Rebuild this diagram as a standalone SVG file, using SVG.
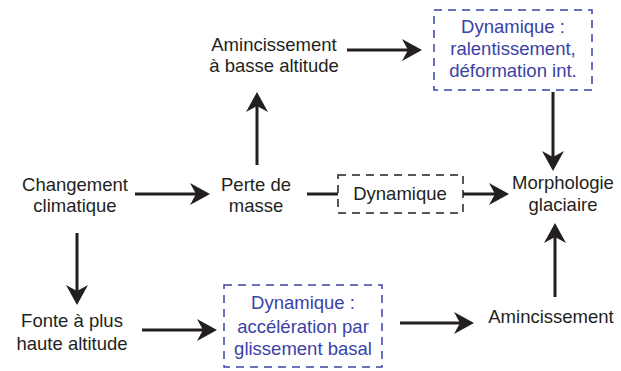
<svg xmlns="http://www.w3.org/2000/svg" width="621" height="371" viewBox="0 0 621 371">
<style>
text{font-family:"Liberation Sans",Arial,sans-serif;font-size:18.5px;fill:#231f20;text-anchor:middle}
.blue{fill:#3a42a6}
.conn{stroke:#231f20;stroke-width:3;fill:none}
.box{fill:none;stroke:#231f20;stroke-width:1.5;stroke-dasharray:8 6}
.bbox{fill:none;stroke:#3a42a6;stroke-width:1.5;stroke-dasharray:8 6}
</style>
<defs>
<marker id="ah" viewBox="0 -12 22 24" markerWidth="22" markerHeight="24" refX="10" refY="0" markerUnits="userSpaceOnUse" orient="auto">
<path d="M0,-11 L20,0 L0,11 L6,0 Z" fill="#231f20"/>
</marker>
</defs>
<g id="connectors">
<line class="conn" x1="135" y1="194" x2="200" y2="194" marker-end="url(#ah)"/>
<line class="conn" x1="257" y1="165" x2="257" y2="102" marker-end="url(#ah)"/>
<line class="conn" x1="347" y1="50" x2="412" y2="50" marker-end="url(#ah)"/>
<line class="conn" x1="307" y1="194" x2="338" y2="194"/>
<line class="conn" x1="463" y1="194" x2="499" y2="194" marker-end="url(#ah)"/>
<line class="conn" x1="553" y1="92" x2="553" y2="161" marker-end="url(#ah)"/>
<line class="conn" x1="555" y1="297" x2="555" y2="233" marker-end="url(#ah)"/>
<line class="conn" x1="77" y1="233" x2="77" y2="295" marker-end="url(#ah)"/>
<line class="conn" x1="142" y1="330" x2="207" y2="330" marker-end="url(#ah)"/>
<line class="conn" x1="400" y1="323" x2="464" y2="323" marker-end="url(#ah)"/>
</g>
<g id="changement">
<text x="75" y="191">Changement</text>
<text x="75" y="212">climatique</text>
</g>
<g id="perte">
<text x="256" y="191">Perte de</text>
<text x="256" y="212">masse</text>
</g>
<g id="aminc-basse">
<text x="274" y="51">Amincissement</text>
<text x="274" y="72">à basse altitude</text>
</g>
<g id="dyn-ralent">
<rect class="bbox" x="434" y="10" width="158" height="80"/>
<text class="blue" x="513" y="33">Dynamique :</text>
<text class="blue" x="513" y="55">ralentissement,</text>
<text class="blue" x="513" y="77">déformation int.</text>
</g>
<g id="dynamique">
<rect class="box" x="338" y="175" width="125" height="38"/>
<text x="400" y="200">Dynamique</text>
</g>
<g id="morphologie">
<text x="563" y="189">Morphologie</text>
<text x="563" y="211">glaciaire</text>
</g>
<g id="fonte">
<text x="72" y="327">Fonte à plus</text>
<text x="72" y="350">haute altitude</text>
</g>
<g id="dyn-accel">
<rect class="bbox" x="224" y="285" width="158" height="82"/>
<text class="blue" x="303" y="309">Dynamique :</text>
<text class="blue" x="303" y="333">accélération par</text>
<text class="blue" x="303" y="355">glissement basal</text>
</g>
<g id="aminc">
<text x="551" y="323">Amincissement</text>
</g>
</svg>
